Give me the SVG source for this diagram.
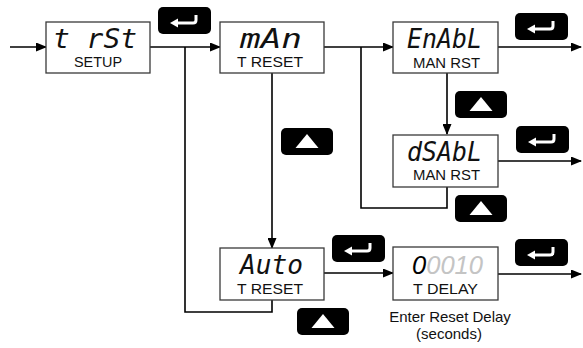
<svg xmlns="http://www.w3.org/2000/svg" width="583" height="348" viewBox="0 0 583 348">
<style>
.box{fill:#fff;stroke:#3a3a3a;stroke-width:1.3}
.seg{font-family:"DejaVu Sans Mono","Liberation Mono",monospace;font-style:italic;font-size:26px;fill:#111;text-anchor:middle}
.num{font-family:"Liberation Sans",Arial,sans-serif;font-style:italic;font-size:26px;text-anchor:middle}
.lbl{font-family:"Liberation Sans",Arial,sans-serif;font-size:14px;fill:#111;text-anchor:middle}
.cap{font-family:"Liberation Sans",Arial,sans-serif;font-size:15px;fill:#111;text-anchor:middle}
.ln{fill:none;stroke:#000;stroke-width:1.6}
.key{fill:#000}
.ent{fill:none;stroke:#fff;stroke-width:3;stroke-linejoin:round}
.tri{fill:#fff}
</style>
<defs>
<marker id="ah" markerUnits="userSpaceOnUse" markerWidth="11" markerHeight="9" refX="10" refY="4.5" orient="auto">
<path d="M0,0 L11,4.5 L0,9 z" fill="#000"/>
</marker>
<g id="enterKey">
<rect x="0" y="0" width="53" height="27" rx="5" class="key"/>
<path d="M18,16 H35 Q38,16 38,13 V8" class="ent"/>
<path d="M12,16 L20,11.5 L20,20.5 z" class="tri"/>
</g>
<g id="upKey">
<rect x="0" y="0" width="52" height="27" rx="5" class="key"/>
<path d="M26,6 L37.5,20 L14.5,20 z" class="tri"/>
</g>
</defs>

<g id="connectors">
<line x1="10" y1="47" x2="46" y2="47" class="ln" marker-end="url(#ah)"/>
<line x1="150" y1="47" x2="220" y2="47" class="ln" marker-end="url(#ah)"/>
<polyline points="185,47 185,312 272,312 272,300" class="ln"/>
<line x1="324" y1="47" x2="393" y2="47" class="ln" marker-end="url(#ah)"/>
<line x1="272" y1="73" x2="272" y2="248" class="ln" marker-end="url(#ah)"/>
<polyline points="361,47 361,208 447,208 447,187" class="ln"/>
<line x1="447" y1="73" x2="447" y2="134" class="ln" marker-end="url(#ah)"/>
<line x1="498" y1="47" x2="581" y2="47" class="ln" marker-end="url(#ah)"/>
<line x1="498" y1="161" x2="581" y2="161" class="ln" marker-end="url(#ah)"/>
<line x1="324" y1="273" x2="393" y2="273" class="ln" marker-end="url(#ah)"/>
<line x1="498" y1="274" x2="581" y2="274" class="ln" marker-end="url(#ah)"/>
</g>

<g id="keys">
<use href="#enterKey" x="158" y="7"/>
<use href="#enterKey" x="515" y="13"/>
<use href="#upKey" x="455" y="91"/>
<use href="#enterKey" x="516" y="126"/>
<use href="#upKey" x="455" y="195"/>
<use href="#upKey" x="281" y="128"/>
<use href="#enterKey" x="332" y="235"/>
<use href="#upKey" x="297" y="308"/>
<use href="#enterKey" x="515" y="239"/>
</g>

<g id="trst">
<rect x="46" y="22" width="104" height="51" class="box"/>
<text x="95" y="48" class="seg" textLength="84" lengthAdjust="spacingAndGlyphs">t rSt</text>
<text x="98" y="67" class="lbl" textLength="48" lengthAdjust="spacingAndGlyphs">SETUP</text>
</g>

<g id="man">
<rect x="220" y="22" width="104" height="51" class="box"/>
<text x="271" y="48" class="seg" textLength="62" lengthAdjust="spacingAndGlyphs">mAn</text>
<text x="270" y="67" class="lbl" textLength="66" lengthAdjust="spacingAndGlyphs">T RESET</text>
</g>

<g id="enabl">
<rect x="393" y="22" width="105" height="51" class="box"/>
<text x="444.5" y="48" class="seg" textLength="75" lengthAdjust="spacingAndGlyphs">EnAbL</text>
<text x="446.5" y="68" class="lbl" textLength="67" lengthAdjust="spacingAndGlyphs">MAN RST</text>
</g>

<g id="dsabl">
<rect x="393" y="135" width="105" height="52" class="box"/>
<text x="444.5" y="161" class="seg" textLength="75" lengthAdjust="spacingAndGlyphs">dSAbL</text>
<text x="446.5" y="180" class="lbl" textLength="67" lengthAdjust="spacingAndGlyphs">MAN RST</text>
</g>

<g id="auto">
<rect x="220" y="248" width="104" height="52" class="box"/>
<text x="271.5" y="274" class="seg" textLength="63" lengthAdjust="spacingAndGlyphs">Auto</text>
<text x="270" y="294" class="lbl" textLength="66" lengthAdjust="spacingAndGlyphs">T RESET</text>
</g>

<g id="delay">
<rect x="393" y="247" width="105" height="53" class="box"/>
<text x="447.5" y="274" class="num" textLength="71" lengthAdjust="spacingAndGlyphs"><tspan fill="#000">0</tspan><tspan fill="#c4c4c4">0010</tspan></text>
<text x="445.5" y="294" class="lbl" textLength="65" lengthAdjust="spacingAndGlyphs">T DELAY</text>
<text x="450" y="322" class="cap">Enter Reset Delay</text>
<text x="449" y="339" class="cap">(seconds)</text>
</g>
</svg>
